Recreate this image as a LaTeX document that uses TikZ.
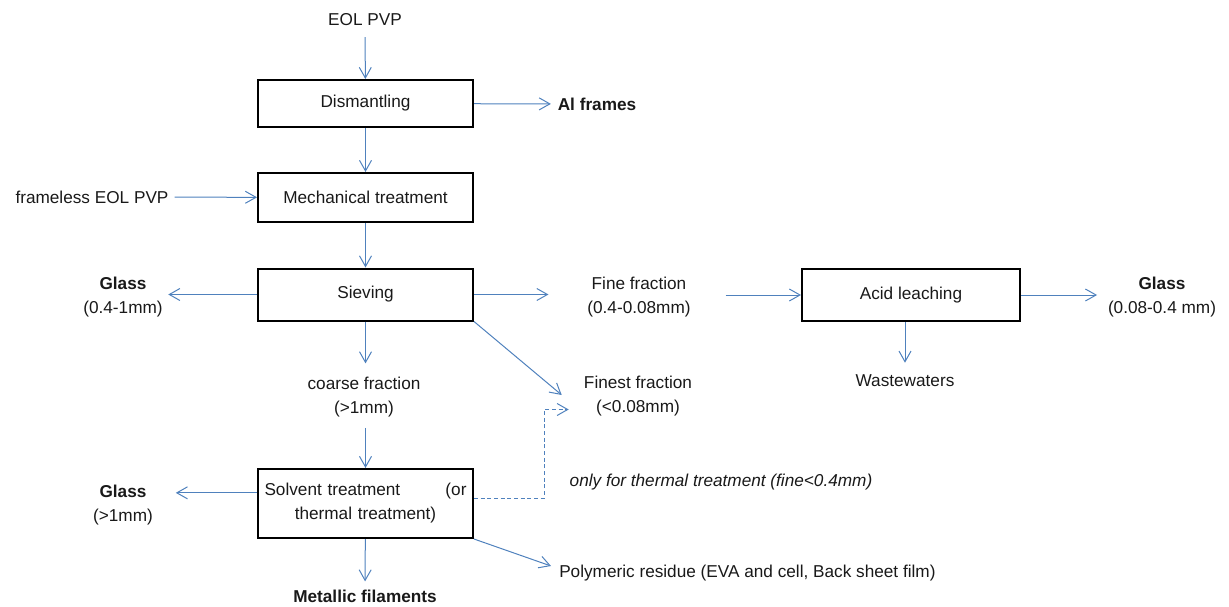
\documentclass[tikz,border=0pt]{standalone}
\usepackage{fontspec}
\setmainfont{Liberation Sans}
\usepackage{xcolor}
\usetikzlibrary{arrows.meta,positioning,calc}
\definecolor{flowblue}{RGB}{79,129,189}

\begin{document}
\begin{tikzpicture}[
    x=0.75pt, y=-0.75pt,
    every node/.style={font=\fontsize{12.9}{18}\selectfont, text=black!90},
    proc/.style={rectangle, draw=black, line width=1.5pt, minimum width=161.25pt, minimum height=37pt, inner sep=0pt},
    lbl/.style={inner sep=0pt, align=center},
    arr/.style={-{Straight Barb[length=8pt,width=9pt]}, flowblue, line width=0.75pt},
    dsh/.style={arr, dash pattern=on 3pt off 2pt}
]
  \useasboundingbox (0,0) rectangle (1229,607);

  % process boxes
  \node[proc, minimum height=35.25pt] (dis) at (365.5,103.5) {Dismantling};
  \node[proc, minimum height=36.75pt] (mech) at (365.5,197.5) {Mechanical treatment};
  \node[proc, minimum height=39pt] (sie) at (365.5,294.5) {Sieving};
  \node[proc, minimum width=163.5pt, minimum height=39pt] (acid) at (911,295) {Acid leaching};
  \node[proc, minimum height=51.75pt, text width=151.5pt, align=center] (sol) at (365.5,503.5)
      {Solvent treatment\hfill(or\\thermal treatment)};

  % inputs, fractions and products
  \node[lbl] (eol) at (365,20) {EOL PVP};
  \node[lbl] (fl) at (92,197) {frameless EOL PVP};
  \node[lbl] (alf) at (597,104) {\textbf{Al frames}};
  \node[lbl] (g1) at (123,297) {\textbf{Glass}\\(0.4-1mm)};
  \node[lbl] (fine) at (639,297) {Fine fraction\\(0.4-0.08mm)};
  \node[lbl] (g3) at (1162,297) {\textbf{Glass}\\(0.08-0.4 mm)};
  \node[lbl] (ww) at (905,381) {Wastewaters};
  \node[lbl] (coarse) at (364,397) {coarse fraction\\(>1mm)};
  \node[lbl] (fin) at (638,396.5) {Finest fraction\\(<0.08mm)};
  \node[lbl] (note) at (721,482) {\textit{only for thermal treatment (fine<0.4mm)}};
  \node[lbl] (g2) at (123,505) {\textbf{Glass}\\(>1mm)};
  \node[lbl] (met) at (365,596) {\textbf{Metallic filaments}};
  \node[lbl, anchor=west] (poly) at (559,573) {Polymeric residue (EVA and cell, Back sheet film)};

  % main line
  \draw[arr, shorten <=8pt] (eol) -- (dis);
  \draw[arr] (dis) -- (mech);
  \draw[arr] (mech) -- (sie);
  \draw[arr, shorten >=5pt] (dis) -- (alf);
  \draw[arr, shorten <=4.5pt] (fl) -- (mech);

  % sieving outputs
  \draw[arr, shorten >=4pt] (sie.west) -- (sie.west -| g1.east);
  \draw[arr, shorten >=29pt] (sie.east) -- (sie.east -| fine.west);
  \draw[arr, shorten <=26pt] (fine.east |- acid.west) -- (acid.west);
  \draw[arr, shorten >=8pt] (acid.east) -- (acid.east -| g3.west);
  \draw[arr, shorten >=9pt] (acid.south -| ww) -- (ww);
  \draw[arr, shorten >=10pt] (sie.south) -- (sie.south |- coarse.north);
  \draw[arr] (sie.south east) -- ([shift={(-22,-1.5)}]fin.west);

  % coarse fraction
  \draw[arr, shorten <=8pt] (sol.north |- coarse.south) -- (sol.north);
  \draw[dsh] ([yshift=4pt]sol.east) -- ++(70,0) |- ([shift={(-15,13)}]fin.west);
  \draw[arr, shorten >=17pt] ([yshift=8pt]sol.west) -- ([yshift=8pt]sol.west -| g2.east);
  \draw[arr, shorten >=6pt] (sol) -- (met);
  \draw[arr] (sol.south east) -- ([shift={(-8,-7)}]poly.west);
\end{tikzpicture}
\end{document}
